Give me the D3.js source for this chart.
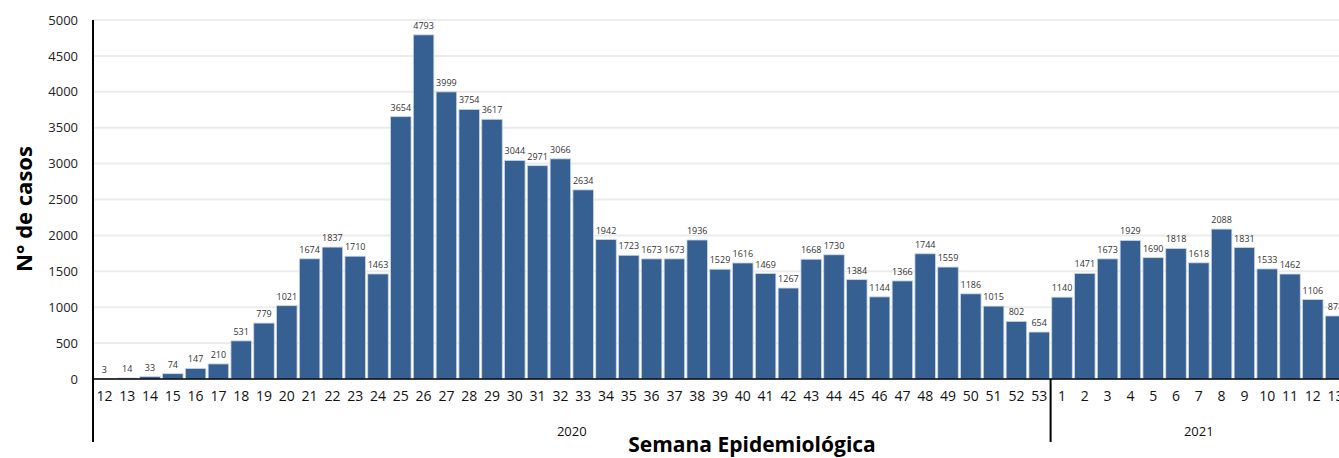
<!DOCTYPE html>
<html><head><meta charset="utf-8">
<script src="https://cdn.jsdelivr.net/npm/d3@7"></script>
<style>html,body{margin:0;padding:0;background:#fff;overflow:hidden}svg{display:block}</style>
</head><body>
<script>
const weeks2020 = [12,13,14,15,16,17,18,19,20,21,22,23,24,25,26,27,28,29,30,31,32,33,34,35,36,37,38,39,40,41,42,43,44,45,46,47,48,49,50,51,52,53];
const cases2020 = [3,14,33,74,147,210,531,779,1021,1674,1837,1710,1463,3654,4793,3999,3754,3617,3044,2971,3066,2634,1942,1723,1673,1673,1936,1529,1616,1469,1267,1668,1730,1384,1144,1366,1744,1559,1186,1015,802,654];
const weeks2021 = [1,2,3,4,5,6,7,8,9,10,11,12,13];
const cases2021 = [1140,1471,1673,1929,1690,1818,1618,2088,1831,1533,1462,1106,878];
const years = ["2020","2021"];
const yTicks = [0,500,1000,1500,2000,2500,3000,3500,4000,4500,5000];

const data = [
  ...weeks2020.map((w,i)=>({key:"2020-"+w, week:w, year:"2020", v:cases2020[i]})),
  ...weeks2021.map((w,i)=>({key:"2021-"+w, week:w, year:"2021", v:cases2021[i]}))
];

const W = 1339, H = 458;
const font = "'Open Sans', Lato, sans-serif";
const svg = d3.select("body").append("svg").attr("width", W).attr("height", H).style("font-family", font);

const x0 = 93, x1 = 1347, yTop = 20, yBase = 379, yBottom = 442;
const x = d3.scaleBand().domain(data.map(d=>d.key)).range([x0, x1]).paddingInner(0.1).paddingOuter(0.05);
const y = d3.scaleLinear().domain([0,5000]).range([yBase, yTop]);

// gridlines
svg.append("g").selectAll("line").data(yTicks.filter(t=>t>0)).join("line")
  .attr("x1", x0).attr("x2", W).attr("y1", d=>y(d)).attr("y2", d=>y(d))
  .attr("stroke", "#ececec").attr("stroke-width", 2);

// y axis labels
const yAxis = d3.axisLeft(y).tickValues(yTicks).tickSize(0).tickPadding(15).tickFormat(d3.format("d"));
const gy = svg.append("g").attr("transform", `translate(${x0},0)`).call(yAxis);
gy.select(".domain").remove();
gy.selectAll("text").attr("font-size", 13).attr("fill", "#222").style("font-family", font);

// bars
svg.append("g").selectAll("rect").data(data).join("rect")
  .attr("x", d=>x(d.key)).attr("width", x.bandwidth())
  .attr("y", d=>y(d.v)).attr("height", d=>yBase - y(d.v))
  .attr("fill", "#376092").attr("stroke", "#c9d6e8").attr("stroke-width", 0.8);

// value labels
svg.append("g").selectAll("text").data(data).join("text")
  .attr("x", d=>x(d.key)+x.bandwidth()/2).attr("y", d=>y(d.v)-6)
  .attr("text-anchor", "middle").attr("font-size", 9).attr("fill", "#333")
  .text(d=>d.v);

// x axis
const xAxis = d3.axisBottom(x).tickSize(0).tickPadding(12).tickFormat(k=>k.split("-")[1]);
const gx = svg.append("g").attr("transform", `translate(0,${yBase})`).call(xAxis);
gx.select(".domain").remove();
gx.selectAll("text").attr("font-size", 14).attr("fill", "#111").style("font-family", font);

// axis lines
svg.append("line").attr("x1", x0).attr("x2", W).attr("y1", yBase).attr("y2", yBase).attr("stroke", "#000").attr("stroke-width", 1.5);
svg.append("line").attr("x1", x0).attr("x2", x0).attr("y1", yTop).attr("y2", yBottom).attr("stroke", "#000").attr("stroke-width", 2);
const sepX = x0 + (x1 - x0) * weeks2020.length / data.length;
svg.append("line").attr("x1", sepX).attr("x2", sepX).attr("y1", yBase).attr("y2", yBottom).attr("stroke", "#000").attr("stroke-width", 2);

// year labels
const yearCenters = years.map(yr=>{
  const ks = data.filter(d=>d.year===yr).map(d=>d.key);
  const a = x(ks[0]), b = x(ks[ks.length-1]) + x.bandwidth();
  return {yr, cx:(a+b)/2};
});
svg.append("g").selectAll("text").data(yearCenters).join("text")
  .attr("x", d=>d.cx).attr("y", 436).attr("text-anchor", "middle")
  .attr("font-size", 13).attr("fill", "#111").text(d=>d.yr);

// titles
svg.append("text").attr("x", 752).attr("y", 452).attr("text-anchor", "middle")
  .attr("font-size", 21).attr("font-weight", "bold").attr("fill", "#000").text("Semana Epidemiológica");
svg.append("text").attr("transform", "translate(32,209) rotate(-90)").attr("text-anchor", "middle")
  .attr("font-size", 22).attr("font-weight", "bold").attr("fill", "#000").text("N° de casos");
</script>
</body></html>
